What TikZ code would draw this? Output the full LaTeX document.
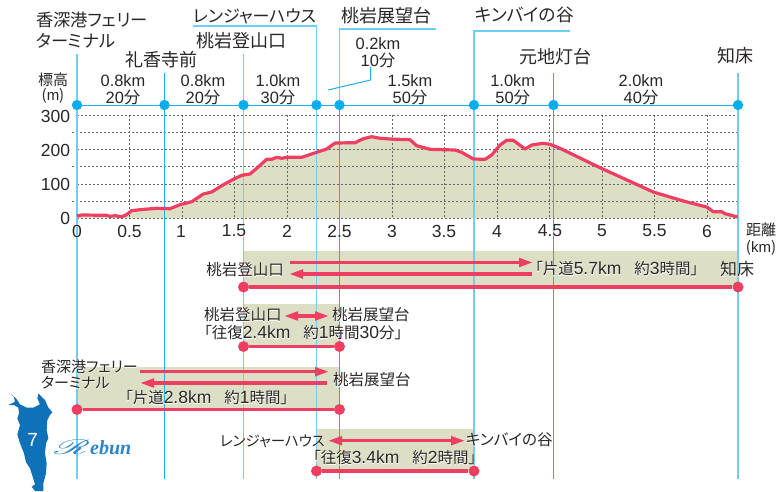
\documentclass[tikz,border=0pt]{standalone}
\usepackage{fontspec}
\usepackage{graphicx}
\usepackage{mathrsfs}
\usetikzlibrary{arrows.meta}
\setmainfont{Liberation Sans}
\newfontfamily\jpN[RawFeature=+palt]{Noto Sans CJK JP}
\newfontfamily\laN{Liberation Sans}
\newfontfamily\lbN[Scale=1.13]{Liberation Sans}
\newfontfamily\jpH[RawFeature=+palt,FakeBold=2.5,Color=FFFFFF]{Noto Sans CJK JP}
\newfontfamily\laH[FakeBold=2.5,Color=FFFFFF]{Liberation Sans}
\newfontfamily\lbH[Scale=1.13,FakeBold=2.5,Color=FFFFFF]{Liberation Sans}
\newfontfamily\rebunfont{Liberation Serif}
\newcommand\lbl[1]{{\let\jp\jpH\let\la\laH\let\lb\lbH\rlap{\jp #1}}{\let\jp\jpN\let\la\laN\let\lb\lbN\color{txt}\jp #1}}
\definecolor{txt}{HTML}{2A2626}
\definecolor{skyL}{HTML}{6DCFF6}
\definecolor{skyD}{HTML}{1CB0EC}
\definecolor{dotblue}{HTML}{00AEEF}
\definecolor{pinkc}{HTML}{EE3F62}
\definecolor{olive}{HTML}{DCDFC4}
\definecolor{gridc}{HTML}{666666}
\definecolor{islandc}{HTML}{0F72B8}
\definecolor{rebunc}{HTML}{2A86C8}
\tikzset{
  x=1pt,y=-1pt,
  lab/.style={inner sep=0pt,outer sep=0pt,font=\fontsize{15.5}{17}\selectfont},
  big/.style={inner sep=0pt,outer sep=0pt,font=\fontsize{18}{20}\selectfont},
  num/.style={inner sep=0pt,outer sep=0pt,font=\fontsize{17.5}{19}\selectfont},
  small/.style={inner sep=0pt,outer sep=0pt,font=\fontsize{15}{17}\selectfont},
  seg/.style={inner sep=0pt,outer sep=0pt,font=\fontsize{16.4}{18}\selectfont},
  lineL/.style={draw=skyL,line width=1.5pt},
  lineD/.style={draw=skyD,line width=1pt},
  griddash/.style={draw=gridc,line width=.75pt,dash pattern=on 2pt off 2pt},
  bdot/.style={circle,fill=dotblue,inner sep=0pt,minimum size=10pt},
  pdot/.style={circle,fill=pinkc,inner sep=0pt,minimum size=11pt},
  pline/.style={draw=pinkc,line width=3.3pt},
  parrow/.style={pline,-{Triangle[length=14pt,width=8.5pt]}},
  pdouble/.style={pline,{Triangle[length=14pt,width=8.5pt]}-{Triangle[length=14pt,width=8.5pt]}},
  band/.style={fill=olive,draw=none},
}
\newcommand\seglab[5]{%
  \node[seg] (#1a) at (#2,#3) {\lbl{\la #4}};
  \node[seg] (#1b) at (#2,#3+16.3) {\lbl{\la #5}};
}
\begin{document}
\begin{tikzpicture}
\useasboundingbox (0,0) rectangle (778,491);
\fill[white] (0,0) rectangle (778,491);
% profile fill
\fill[olive] (77,218) -- (77.3,216) -- (81.7,215) -- (106.7,215.3) -- (110,216.3) -- (115,215.7) -- (121.7,216.7) -- (126,215) -- (131.7,210.7) -- (140,209.7) -- (156.7,208.3) -- (170,208.7) -- (180,204.7) -- (191.7,201.7) -- (203.3,194) -- (211.7,192) -- (221.7,185.7) -- (233.3,179.3) -- (241.7,175.3) -- (250,174) -- (256.7,168.3) -- (266.7,159.3) -- (271.7,159.3) -- (276.7,157.3) -- (281.7,158.3) -- (286.7,157.3) -- (301.7,157.3) -- (316.7,152.3) -- (326.7,149) -- (335,143) -- (355,142.7) -- (363.3,138.7) -- (371.7,136.7) -- (380,138.3) -- (390,139) -- (410,139.7) -- (416.7,145.7) -- (430,149.3) -- (455,150) -- (461.7,152.3) -- (473.3,159) -- (485,159.3) -- (491.7,155) -- (500,145) -- (506.7,140.3) -- (513.3,140.3) -- (525,149) -- (531.7,145) -- (543.3,143.3) -- (550,144.3) -- (560,148.3) -- (600,167.7) -- (653.3,192) -- (683.3,201) -- (706.7,207) -- (713.3,211.7) -- (721.7,211.7) -- (725,213.7) -- (737.7,217) -- (737.7,218) -- cycle;
% bands
\fill[band] (243.5,251) rectangle (738,287);
\fill[band] (243.5,304) rectangle (339.5,346);
\fill[band] (77,367) rectangle (339.5,410);
\fill[band] (316.5,429) rectangle (474,471);
% grid
\foreach \yy in {115,149.5,184,218} \draw[griddash] (77,\yy) -- (738,\yy);
\foreach \yy in {132.7,166.7,201} \draw[griddash] (72,\yy) -- (738,\yy);
\foreach \xx in {77,129.5,182,234.5,287,339.5,392,444.5,497,549.5,602,654.5,707,738} \draw[griddash] (\xx,115) -- (\xx,218);
% blue route nodes
\node[bdot] (b1) at (77,105) {};
\node[bdot] (b2) at (164.5,105) {};
\node[bdot] (b3) at (243.5,105) {};
\node[bdot] (b4) at (316.5,105) {};
\node[bdot] (b5) at (339.5,105) {};
\node[bdot] (b6) at (474,105) {};
\node[bdot] (b7) at (553.5,105) {};
\node[bdot] (b8) at (738,105) {};
\draw[lineD] (b1.center) -- (b8.center);
\coordinate (t1) at (77,54);
\coordinate (t2) at (164.5,73);
\coordinate (t3) at (243.5,54);
\coordinate (t4a) at (193,26);
\coordinate (t4) at (316.5,26);
\coordinate (t5a) at (436,29);
\coordinate (t5) at (339.5,29);
\coordinate (t6a) at (570,31);
\coordinate (t6) at (474,31);
\coordinate (t7) at (553.5,73);
\coordinate (t8) at (738,73);
\coordinate (e1) at (77,479);
\coordinate (e2) at (164.5,479);
\coordinate (e3) at (243.5,479);
\coordinate (e4) at (316.5,479);
\coordinate (e5) at (339.5,479);
\coordinate (e6) at (474,479);
\coordinate (e7) at (553.5,479);
\coordinate (e8) at (738,479);
\draw[lineL] (t1) -- (e1);
\draw[lineD] (t2) -- (e2);
\draw[lineL] (t3) -- (e3);
\draw[lineL] (t4a) -- (t4) -- (e4);
\draw[lineL] (t5a) -- (t5) -- (b5.center);
\draw[lineD] (b5.center) -- (e5);
\draw[lineL] (t6a) -- (t6) -- (e6);
\draw[lineD] (t7) -- (e7);
\draw[lineL] (t8) -- (e8);
\coordinate (lead1) at (370.5,67);
\coordinate (lead2) at (370.5,80);
\coordinate (lead3) at (328,90);
\draw[lineD] (lead1) -- (lead2) -- (lead3);
% redraw dots over lines
\foreach \n in {b1,b2,b3,b4,b5,b6,b7,b8} \fill[dotblue] (\n) circle (5);
% profile line
\draw[pinkc,line width=3.2pt,line join=round] (77,216) -- (81.7,215) -- (106.7,215.3) -- (110,216.3) -- (115,215.7) -- (121.7,216.7) -- (126,215) -- (131.7,210.7) -- (140,209.7) -- (156.7,208.3) -- (170,208.7) -- (180,204.7) -- (191.7,201.7) -- (203.3,194) -- (211.7,192) -- (221.7,185.7) -- (233.3,179.3) -- (241.7,175.3) -- (250,174) -- (256.7,168.3) -- (266.7,159.3) -- (271.7,159.3) -- (276.7,157.3) -- (281.7,158.3) -- (286.7,157.3) -- (301.7,157.3) -- (316.7,152.3) -- (326.7,149) -- (335,143) -- (355,142.7) -- (363.3,138.7) -- (371.7,136.7) -- (380,138.3) -- (390,139) -- (410,139.7) -- (416.7,145.7) -- (430,149.3) -- (455,150) -- (461.7,152.3) -- (473.3,159) -- (485,159.3) -- (491.7,155) -- (500,145) -- (506.7,140.3) -- (513.3,140.3) -- (525,149) -- (531.7,145) -- (543.3,143.3) -- (550,144.3) -- (560,148.3) -- (600,167.7) -- (653.3,192) -- (683.3,201) -- (706.7,207) -- (713.3,211.7) -- (721.7,211.7) -- (725,213.7) -- (737.7,217);
% top labels
\node[lab,anchor=west,font=\fontsize{17.3}{19}\selectfont] (s1a) at (36,20) {\lbl{香深港フェリー}};
\node[lab,anchor=west,font=\fontsize{17.3}{19}\selectfont] (s1b) at (36,41) {\lbl{ターミナル}};
\node[big] (s2) at (161,60) {\lbl{礼香寺前}};
\node[big,anchor=west,font=\fontsize{17}{19}\selectfont] (s4) at (193,16) {\lbl{レンジャーハウス}};
\node[big] (s3) at (241,41) {\lbl{桃岩登山口}};
\node[big] (s5) at (386,16) {\lbl{桃岩展望台}};
\node[big,anchor=west,font=\fontsize{17.7}{19}\selectfont] (s6) at (475,15) {\lbl{キンバイの谷}};
\node[big] (s7) at (555.5,57) {\lbl{元地灯台}};
\node[big] (s8) at (735,56) {\lbl{知床}};
% segment labels
\seglab{sa}{123}{81}{0.8km}{20\jp 分}
\seglab{sb}{203}{81}{0.8km}{20\jp 分}
\seglab{sc}{278}{81}{1.0km}{30\jp 分}
\seglab{sd}{378}{44}{0.2km}{10\jp 分}
\seglab{se}{410}{81}{1.5km}{50\jp 分}
\seglab{sf}{512.7}{81}{1.0km}{50\jp 分}
\seglab{sg}{641}{81}{2.0km}{40\jp 分}
% axis labels
\node[small] (ya) at (53,80) {\lbl{標高}};
\node[small] (yb) at (53,96) {\lbl{(\la m\jp )}};
\node[num,anchor=east] (y3) at (70,116) {\lbl{\la 300}};
\node[num,anchor=east] (y2) at (70,150) {\lbl{\la 200}};
\node[num,anchor=east] (y1) at (70,184) {\lbl{\la 100}};
\node[num,anchor=east] (y0) at (70,218) {\lbl{\la 0}};
\node[num] (xa) at (77,231) {\lbl{\la 0}};
\node[num] (xb) at (129.5,231) {\lbl{\la 0.5}};
\node[num] (xc) at (181,231) {\lbl{\la 1}};
\node[num] (xd) at (234,231) {\lbl{\la 1.5}};
\node[num] (xe) at (287,231) {\lbl{\la 2}};
\node[num] (xf) at (339.5,231) {\lbl{\la 2.5}};
\node[num] (xg) at (392,231) {\lbl{\la 3}};
\node[num] (xh) at (444,231) {\lbl{\la 3.5}};
\node[num] (xi) at (497,231) {\lbl{\la 4}};
\node[num] (xj) at (550,231) {\lbl{\la 4.5}};
\node[num] (xk) at (602,231) {\lbl{\la 5}};
\node[num] (xl) at (654.5,231) {\lbl{\la 5.5}};
\node[num] (xm) at (707,231) {\lbl{\la 6}};
\node[small] (xn) at (761,230) {\lbl{距離}};
\node[small] (xo) at (761,248) {\lbl{(\la km\jp )}};
% band 1
\node[pdot] (p1a) at (243.5,287) {};
\node[pdot] (p1b) at (738,287) {};
\draw[pline] (p1a) -- (p1b);
\coordinate (a1s) at (290,262.5);
\coordinate (a1e) at (533,262.5);
\coordinate (a2s) at (531.7,274);
\coordinate (a2e) at (289,274);
\draw[parrow] (a1s) -- (a1e);
\draw[parrow] (a2s) -- (a2e);
\node[lab] (l1a) at (245,270) {\lbl{桃岩登山口}};
\node[lab,anchor=west] (l1b) at (535,269) {\lbl{「片道\lb 5.7km\hspace{13pt}\jp 約\lb 3\jp 時間」}};
\node[lab,font=\fontsize{17}{19}\selectfont] (l1c) at (737,269) {\lbl{知床}};
% band 2
\node[pdot] (p2a) at (243.5,346.5) {};
\node[pdot] (p2b) at (339.5,346.5) {};
\draw[pline] (p2a) -- (p2b);
\coordinate (a3s) at (284,316);
\coordinate (a3e) at (329,316);
\draw[pdouble] (a3s) -- (a3e);
\node[lab,anchor=west] (l2a) at (204,315) {\lbl{桃岩登山口}};
\node[lab,anchor=west] (l2b) at (332,315) {\lbl{桃岩展望台}};
\node[lab,anchor=west] (l2c) at (204,333) {\lbl{「往復\lb 2.4km\hspace{13pt}\jp 約\lb 1\jp 時間\lb 30\jp 分」}};
% band 3
\node[pdot] (p3a) at (77,409.5) {};
\node[pdot] (p3b) at (339.5,409.5) {};
\draw[pline] (p3a) -- (p3b);
\coordinate (a4s) at (140,371.7);
\coordinate (a4e) at (329,371.7);
\coordinate (a5s) at (327,383);
\coordinate (a5e) at (140,383);
\draw[parrow] (a4s) -- (a4e);
\draw[parrow] (a5s) -- (a5e);
\node[lab,anchor=west,font=\fontsize{15}{16}\selectfont] (l3a) at (41,367) {\lbl{香深港フェリー}};
\node[lab,anchor=west,font=\fontsize{15}{16}\selectfont] (l3b) at (41,383) {\lbl{ターミナル}};
\node[lab,anchor=west] (l3c) at (333,380) {\lbl{桃岩展望台}};
\node[lab,anchor=west] (l3d) at (125,398) {\lbl{「片道\lb 2.8km\hspace{13pt}\jp 約\lb 1\jp 時間」}};
% band 4
\node[pdot] (p4a) at (316.5,471) {};
\node[pdot] (p4b) at (474,471) {};
\draw[pline] (p4a) -- (p4b);
\coordinate (a6s) at (328,440.7);
\coordinate (a6e) at (465,440.7);
\draw[pdouble] (a6s) -- (a6e);
\node[lab,anchor=west,font=\fontsize{14.5}{16}\selectfont] (l4a) at (220,441) {\lbl{レンジャーハウス}};
\node[lab,anchor=west] (l4b) at (466,440) {\lbl{キンバイの谷}};
\node[lab,anchor=west] (l4c) at (313,458) {\lbl{「往復\lb 3.4km\hspace{13pt}\jp 約\lb 2\jp 時間」}};
% island
\begin{scope}[shift={(0,385)},x=.33333pt,y=-.33333pt]
\fill[islandc] (28,25) -- (40,33) -- (45,48) -- (40,53) -- (25,60) -- (42,60) -- (55,68) -- (57,85) -- (52,100) -- (60,120) -- (52,148) -- (60,175) -- (72,205) -- (78,232) -- (90,250) -- (98,275) -- (105,298) -- (95,305) -- (105,318) -- (130,318) -- (130,295) -- (138,265) -- (140,235) -- (135,205) -- (138,175) -- (145,160) -- (140,135) -- (142,105) -- (150,90) -- (157,82) -- (145,68) -- (135,45) -- (115,25) -- (112,40) -- (120,58) -- (100,68) -- (80,68) -- (60,58) -- (48,40) -- cycle;
\end{scope}
\node[inner sep=0pt,text=white,font=\laN\fontsize{19}{21}\selectfont] (isl) at (32.7,440) {7};
\node[inner sep=0pt,anchor=west,text=rebunc,font=\rebunfont\itshape\bfseries\fontsize{20}{22}\selectfont] (reb) at (54,447) {\scalebox{1.9}[1]{$\mathscr{R}$}ebun};
\end{tikzpicture}
\end{document}
